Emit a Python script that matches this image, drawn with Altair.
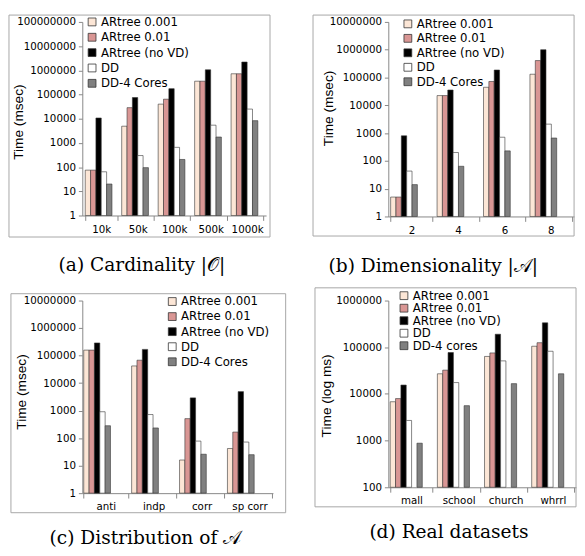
import altair as alt
import pandas as pd

# ---------------- data ----------------
series_abc = ["ARtree 0.001", "ARtree 0.01", "ARtree (no VD)", "DD", "DD-4 Cores"]
series_d = ["ARtree 0.001", "ARtree 0.01", "ARtree (no VD)", "DD", "DD-4 cores"]
bar_colors = ["#FCE6D6", "#D99694", "#000000", "#FFFFFF", "#808080"]

card_cats = ["10k", "50k", "100k", "500k", "1000k"]
card_a001 = [75, 4900, 40000, 355000, 720000]
card_a01 = [75, 28600, 64000, 355000, 720000]
card_novd = [10700, 75000, 174000, 1050000, 2200000]
card_dd = [64, 300, 655, 5400, 25000]
card_dd4 = [20, 95, 207, 1750, 8300]

dim_cats = ["2", "4", "6", "8"]
dim_a001 = [5, 22400, 44500, 131000]
dim_a01 = [5, 22400, 72000, 407000]
dim_novd = [800, 35500, 186000, 1000000]
dim_dd = [43, 200, 710, 2100]
dim_dd4 = [14, 64, 229, 665]

dist_cats = ["anti", "indp", "corr", "sp corr"]
dist_a001 = [158000, 42000, 16, 42]
dist_a01 = [158000, 68000, 510, 166]
dist_novd = [288000, 168000, 2900, 4900]
dist_dd = [910, 720, 78, 72]
dist_dd4 = [282, 234, 26, 25]

real_cats = ["mall", "school", "church", "whrrl"]
real_a001 = [6800, 27000, 63500, 105000]
real_a01 = [7950, 32300, 75500, 125000]
real_novd = [15500, 77000, 190000, 333000]
real_dd = [2700, 17500, 51000, 82000]
real_dd4 = [880, 5600, 16600, 27000]

LABEL_FONT = "DejaVu Sans"
AXIS_GRAY = "#868686"
BOX_GRAY = "#A6A6A6"


def make_df(cats, labels, cols):
    rows = []
    for s, vals in zip(labels, cols):
        for c, v in zip(cats, vals):
            rows.append({"cat": c, "series": s, "value": v})
    return pd.DataFrame(rows)


def panel(cats, labels, cols, ydom, yticks, ytitle, w, h, box, pad_in, pad_out,
          leg_x, leg_y, row_pad, title_x, title_y, caption, cap_dx, cap_off):
    df = make_df(cats, labels, cols)
    L, R, T, B = box
    frame = alt.Chart(pd.DataFrame({"k": [0]})).mark_rect(
        fillOpacity=0, stroke=BOX_GRAY, strokeWidth=1
    ).encode(
        x=alt.value(-L), x2=alt.value(w + R), y=alt.value(-T), y2=alt.value(h + B)
    )
    bars = alt.Chart(df).mark_bar(
        stroke="#333333", strokeWidth=0.6, width=alt.RelativeBandSize(1)
    ).encode(
        x=alt.X("cat:N", sort=cats,
                scale=alt.Scale(paddingInner=pad_in, paddingOuter=pad_out),
                axis=alt.Axis(title=None, labelAngle=0, tickBand="extent",
                              domainColor=AXIS_GRAY, tickColor=AXIS_GRAY, tickSize=5,
                              labelPadding=4, labelFont=LABEL_FONT, labelFontSize=10.5,
                              labelColor="#000000")),
        xOffset=alt.XOffset("series:N", sort=labels,
                            scale=alt.Scale(paddingInner=0, paddingOuter=0)),
        y=alt.Y("value:Q",
                scale=alt.Scale(type="log", domain=ydom, nice=False),
                axis=alt.Axis(values=yticks, format="d", title=ytitle, grid=False,
                              domainColor=AXIS_GRAY, tickColor=AXIS_GRAY, tickSize=4,
                              labelPadding=3, labelFont=LABEL_FONT, labelFontSize=10.5,
                              labelColor="#000000", titleFont="Liberation Sans",
                              titleFontSize=14, titleFontWeight="normal",
                              titleColor="#000000", titleAngle=-90,
                              titleAlign="center", titleBaseline="middle",
                              titleX=title_x, titleY=title_y)),
        y2=alt.Y2Datum(ydom[0]),
        color=alt.Color("series:N", sort=labels,
                        scale=alt.Scale(domain=labels, range=bar_colors),
                        legend=alt.Legend(title=None, orient="none", legendX=leg_x,
                                          legendY=leg_y, symbolType="square",
                                          symbolSize=64, symbolStrokeColor="#333333",
                                          symbolStrokeWidth=0.8, labelFont=LABEL_FONT,
                                          labelFontSize=12, labelColor="#000000",
                                          labelOffset=3, rowPadding=row_pad,
                                          padding=0)),
    )
    return alt.layer(frame, bars).properties(
        width=w, height=h,
        title=alt.TitleParams(caption, orient="bottom", frame="group", anchor="middle",
                              dx=cap_dx, offset=cap_off, font="DejaVu Serif",
                              fontSize=19, fontWeight="normal", baseline="top",
                              color="#000000"),
    )


pa = panel(card_cats, series_abc, [card_a001, card_a01, card_novd, card_dd, card_dd4],
           [1, 100000000], [10 ** i for i in range(9)], "Time (msec)",
           188, 198, (75, 4, 7, 22), 0.12, 0.08, 4, -6, 3.7, -65, 102,
           "(a) Cardinality |𝒪|", -33, 19)
pb = panel(dim_cats, series_abc, [dim_a001, dim_a01, dim_novd, dim_dd, dim_dd4],
           [1, 10000000], [10 ** i for i in range(8)], "Time (msec)",
           190, 199, (77, 0, 7, 20), 0.1, 0.05, 14, -4, 2.8, -61, 88,
           "(b) Dimensionality |𝒜|", -49, 21)
pc = panel(dist_cats, series_abc, [dist_a001, dist_a01, dist_novd, dist_dd, dist_dd4],
           [1, 10000000], [10 ** i for i in range(8)], "Time (msec)",
           195, 197, (73, 13, 7, 20), 0.08, 0.03, 86, -5, 3.4, -62, 93,
           "(c) Distribution of 𝒜", -33, 16)
pd_ = panel(real_cats, series_d, [real_a001, real_a01, real_novd, real_dd, real_dd4],
            [100, 1000000], [10 ** i for i in range(2, 7)], "Time (log ms)",
            192, 191, (75, 0, 13, 20), 0.1, 0.04, 10, -11, 0.8, -63, 97,
            "(d) Real datasets", -34, 16)

row1 = alt.hconcat(pa, pb, spacing=42).resolve_scale(
    color="independent", x="independent", y="independent").resolve_legend(color="independent")
row2 = alt.hconcat(pc, pd_, spacing=28).resolve_scale(
    color="independent", x="independent", y="independent").resolve_legend(color="independent")

chart = alt.vconcat(row1, row2, spacing=11).resolve_scale(
    color="independent", x="independent", y="independent"
).resolve_legend(color="independent").properties(padding=0).configure_view(stroke=None)

chart.save("out.html", embed_options={"renderer": "svg", "actions": False})
